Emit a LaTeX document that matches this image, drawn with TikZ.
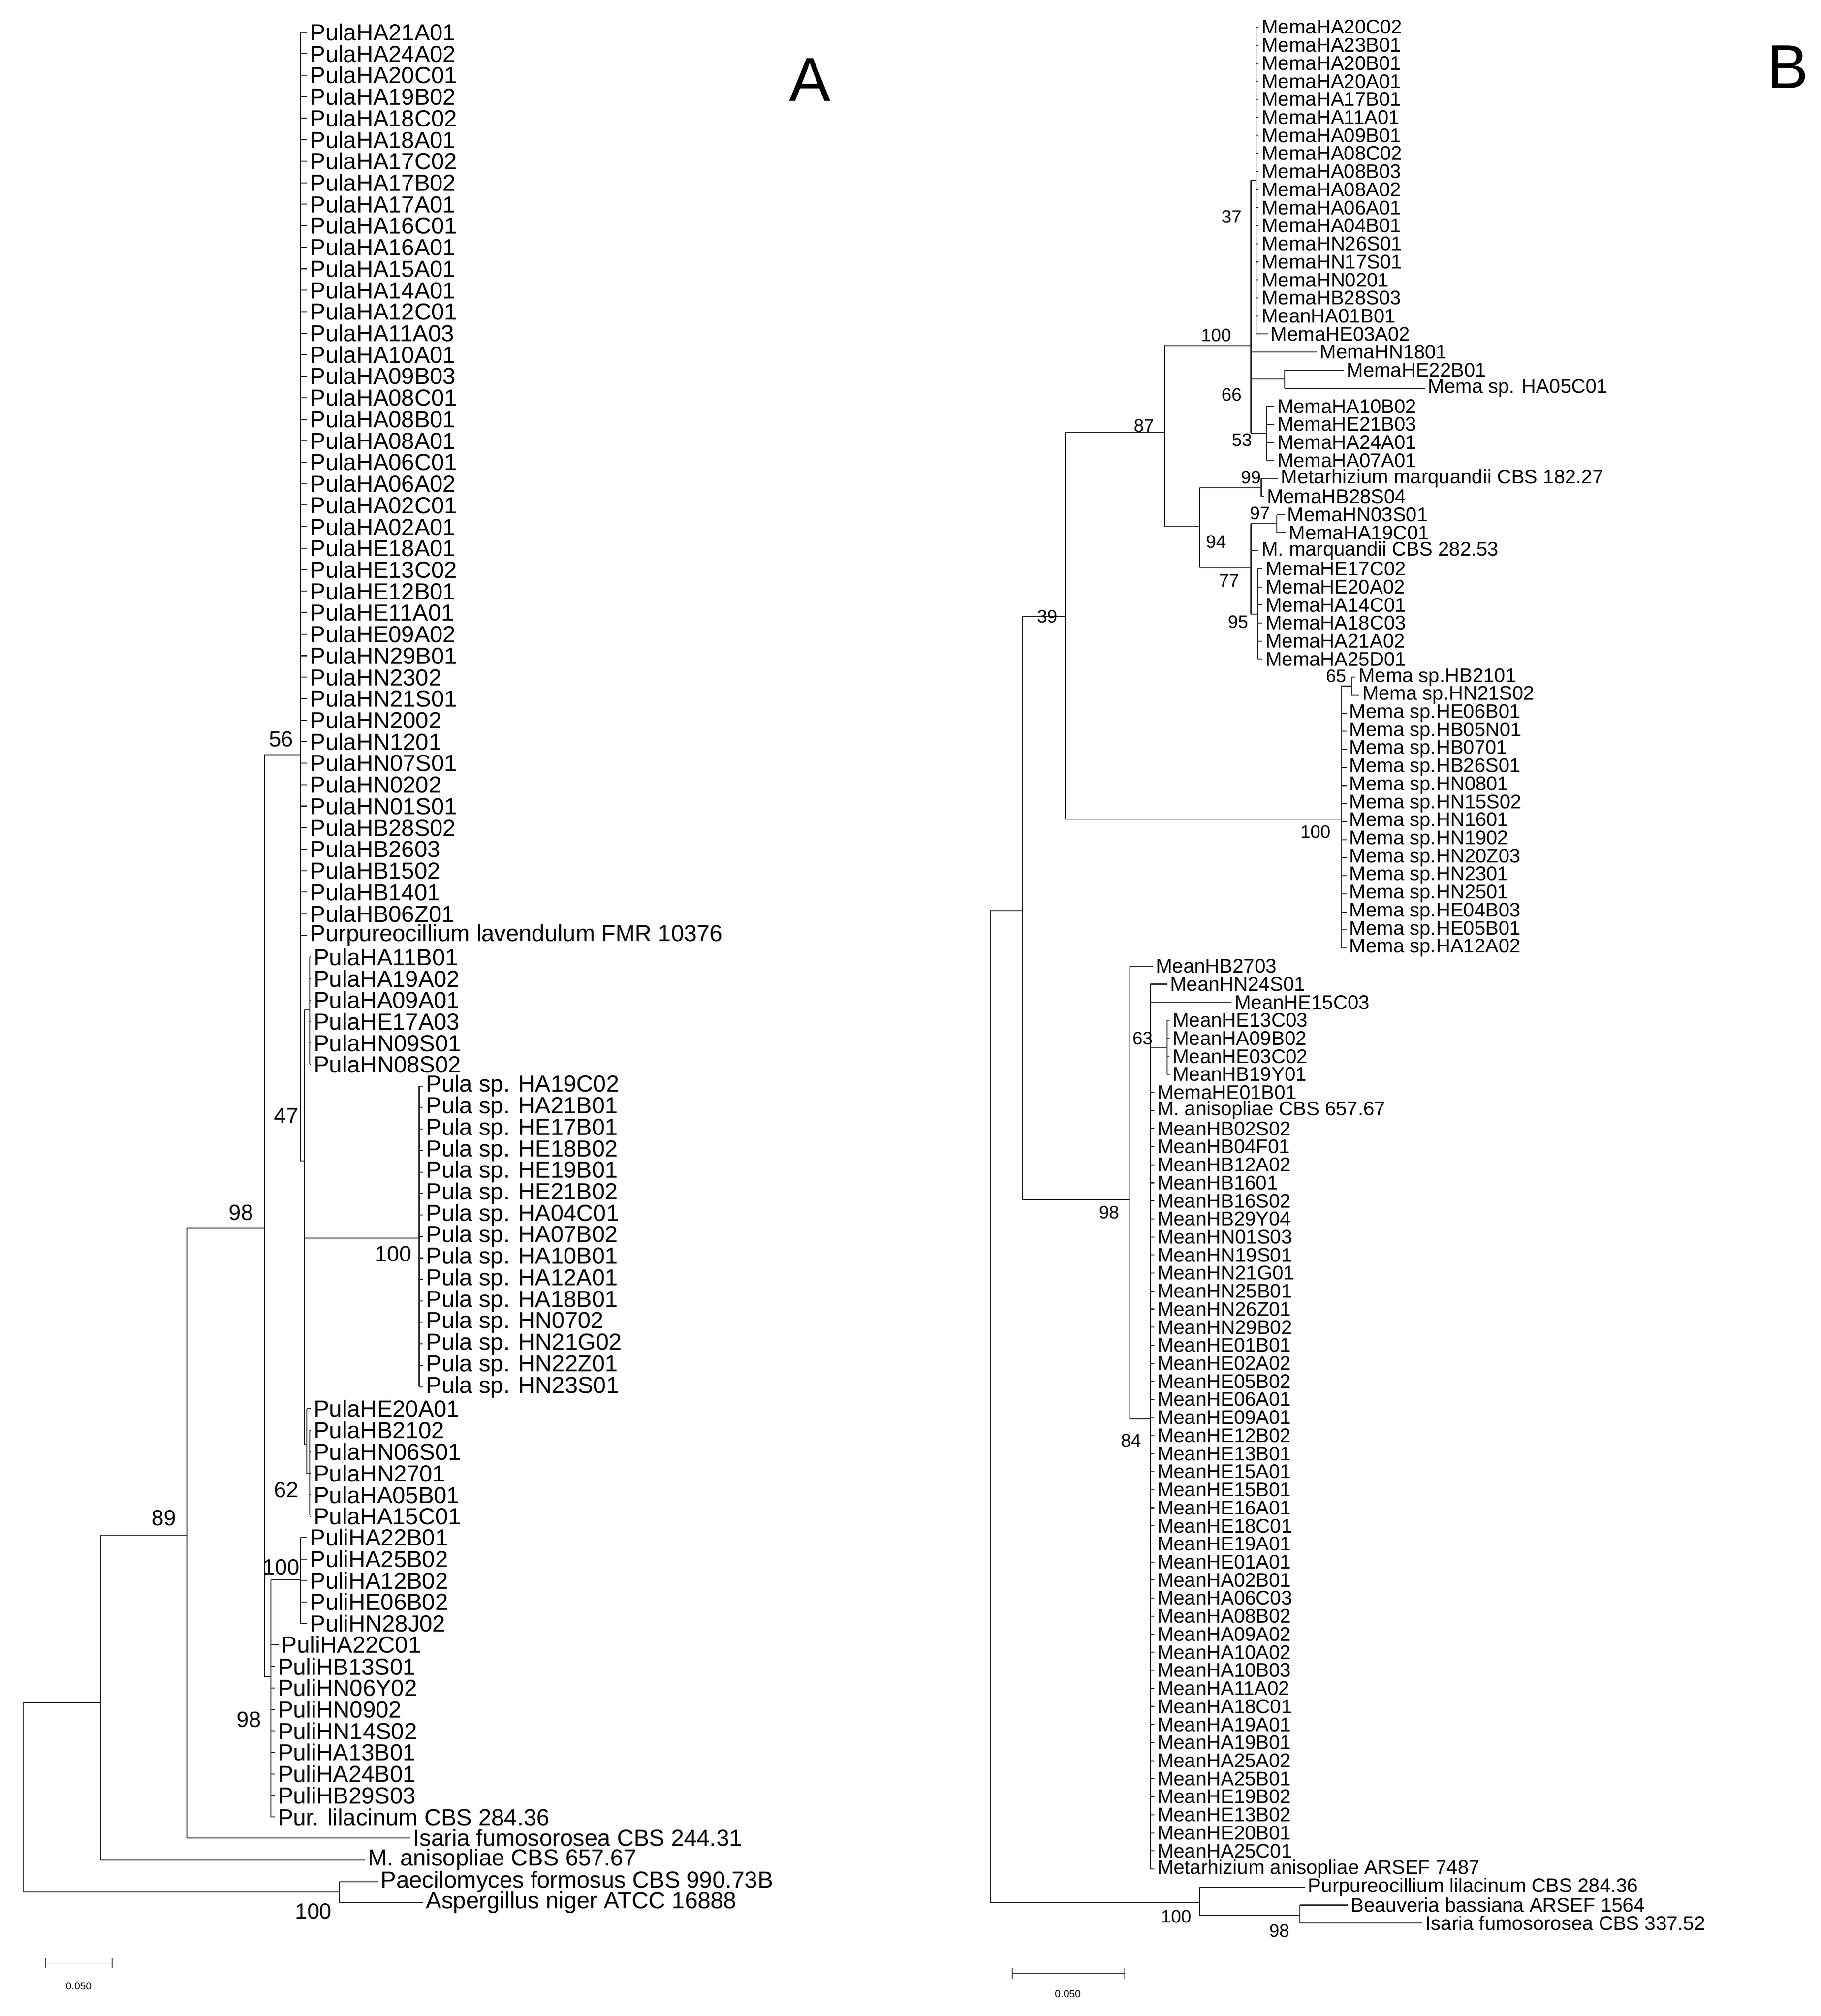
\documentclass[tikz,border=0pt]{standalone}
\usepackage{fontspec}
\setmainfont{Liberation Sans}
\begin{document}
\begin{tikzpicture}[x=1pt,y=-1pt,
  br/.style={draw=black!80,line width=0.8pt},
  la/.style={anchor=west,inner sep=2pt,font=\fontsize{18}{18}\selectfont},
  lb/.style={anchor=west,inner sep=2pt,font=\fontsize{15.3}{15}\selectfont},
  sa/.style={font=\fontsize{17}{17}\selectfont,inner sep=0pt},
  sb/.style={font=\fontsize{14}{14}\selectfont,inner sep=0pt}]
\useasboundingbox (0,0) rectangle (1412,1563);
\newcommand\lfa[4]{\draw[br] (#1,{#3}) -- (#2,{#3}) node[la]{#4};}
\newcommand\lfb[4]{\draw[br] (#1,{#3}) -- (#2,{#3}) node[lb]{#4};}
% ===== Tree A =====
\foreach \t [count=\i] in {PulaHA21A01,PulaHA24A02,PulaHA20C01,PulaHA19B02,PulaHA18C02,PulaHA18A01,PulaHA17C02,PulaHA17B02,PulaHA17A01,PulaHA16C01,PulaHA16A01,PulaHA15A01,PulaHA14A01,PulaHA12C01,PulaHA11A03,PulaHA10A01,PulaHA09B03,PulaHA08C01,PulaHA08B01,PulaHA08A01,PulaHA06C01,PulaHA06A02,PulaHA02C01,PulaHA02A01,PulaHE18A01,PulaHE13C02,PulaHE12B01,PulaHE11A01,PulaHE09A02,PulaHN29B01,PulaHN2302,PulaHN21S01,PulaHN2002,PulaHN1201,PulaHN07S01,PulaHN0202,PulaHN01S01,PulaHB28S02,PulaHB2603,PulaHB1502,PulaHB1401,PulaHB06Z01,Purpureocillium lavendulum FMR 10376}
  {\lfa{233}{238}{25+(\i-1)*16.667}{\t}}
\foreach \t [count=\i] in {PulaHA11B01,PulaHA19A02,PulaHA09A01,PulaHE17A03,PulaHN09S01,PulaHN08S02}
  {\lfa{240}{241}{742+(\i-1)*16.667}{\t}}
\foreach \t [count=\i] in {HA19C02,HA21B01,HE17B01,HE18B02,HE19B01,HE21B02,HA04C01,HA07B02,HA10B01,HA12A01,HA18B01,HN0702,HN21G02,HN22Z01,HN23S01}
  {\lfa{325}{328}{842+(\i-1)*16.667}{Pula sp. \t}}
\lfa{238}{241}{1092}{PulaHE20A01}
\foreach \t [count=\i] in {PulaHB2102,PulaHN06S01,PulaHN2701,PulaHA05B01,PulaHA15C01}
  {\lfa{240}{241}{1109+(\i-1)*16.667}{\t}}
\foreach \t [count=\i] in {PuliHA22B01,PuliHA25B02,PuliHA12B02,PuliHE06B02,PuliHN28J02}
  {\lfa{233}{238}{1192+(\i-1)*16.667}{\t}}
\lfa{210}{216}{1275}{PuliHA22C01}
\foreach \t [count=\i] in {PuliHB13S01,PuliHN06Y02,PuliHN0902,PuliHN14S02,PuliHA13B01,PuliHA24B01,PuliHB29S03,Pur. lilacinum CBS 284.36}
  {\lfa{210}{213}{1292+(\i-1)*16.667}{\t}}
\lfa{145}{318}{1425}{Isaria fumosorosea CBS 244.31}
\lfa{78}{283}{1442}{M. anisopliae CBS 657.67}
\lfa{263}{293}{1459}{Paecilomyces formosus CBS 990.73B}
\lfa{263}{328}{1475}{Aspergillus niger ATCC 16888}
\draw[br] (78,1320)--(18,1320)--(18,1467)--(263,1467);
\draw[br] (263,1459)--(263,1475);
\draw[br] (145,1190)--(78,1190)--(78,1442);
\draw[br] (205,952)--(145,952)--(145,1425);
\draw[br] (233,585)--(205,585)--(205,1300)--(210,1300);
\draw[br] (233,25)--(233,900)--(236,900);
\draw[br] (236,783)--(236,1120);
\draw[br] (236,783)--(240,783) (240,742)--(240,825);
\draw[br] (236,960)--(325,960) (325,842)--(325,1075);
\draw[br] (236,1120)--(238,1120) (238,1092)--(238,1142)--(240,1142) (240,1109)--(240,1175);
\draw[br] (210,1225)--(210,1409) (210,1225)--(233,1225) (233,1192)--(233,1259);
\node[sa] at (218,573){56};
\node[sa] at (222,865){47};
\node[sa] at (305,972){100};
\node[sa] at (222,1155){62};
\node[sa] at (187,940){98};
\node[sa] at (127,1177){89};
\node[sa] at (218,1215){100};
\node[sa] at (193,1333){98};
\node[sa] at (243,1482){100};
\draw[br,line width=0.6pt] (35,1522)--(87,1522) (35,1518)--(35,1526) (87,1518)--(87,1526);
\node[font=\fontsize{8}{8}\selectfont] at (61,1540){0.050};
\node[font=\fontsize{48}{48}\selectfont] at (628,62){A};
% ===== Tree B =====
\foreach \t [count=\i] in {MemaHA20C02,MemaHA23B01,MemaHA20B01,MemaHA20A01,MemaHA17B01,MemaHA11A01,MemaHA09B01,MemaHA08C02,MemaHA08B03,MemaHA08A02,MemaHA06A01,MemaHA04B01,MemaHN26S01,MemaHN17S01,MemaHN0201,MemaHB28S03,MeanHA01B01}
  {\lfb{974}{976}{21+(\i-1)*14}{\t}}
\lfb{974}{983}{259}{MemaHE03A02}
\lfb{970}{1021}{273}{MemaHN1801}
\lfb{996}{1042}{287}{MemaHE22B01}
\lfb{996}{1105}{301}{Mema sp. HA05C01}
\foreach \t [count=\i] in {MemaHA10B02,MemaHE21B03,MemaHA24A01,MemaHA07A01}
  {\lfb{982}{988}{315+(\i-1)*14}{\t}}
\lfb{978}{991}{371}{Metarhizium marquandii CBS 182.27}
\lfb{978}{980}{385}{MemaHB28S04}
\lfb{990}{996}{399}{MemaHN03S01}
\lfb{990}{997}{413}{MemaHA19C01}
\lfb{970}{976}{427}{M. marquandii CBS 282.53}
\foreach \t [count=\i] in {MemaHE17C02,MemaHE20A02,MemaHA14C01,MemaHA18C03,MemaHA21A02,MemaHA25D01}
  {\lfb{975}{979}{441+(\i-1)*14}{\t}}
\lfb{1048}{1051}{525}{Mema sp.HB2101}
\lfb{1048}{1054}{539}{Mema sp.HN21S02}
\foreach \t [count=\i] in {HE06B01,HB05N01,HB0701,HB26S01,HN0801,HN15S02,HN1601,HN1902,HN20Z03,HN2301,HN2501,HE04B03,HE05B01,HA12A02}
  {\lfb{1040}{1044}{553+(\i-1)*14}{Mema sp.\t}}
\lfb{876}{894}{749}{MeanHB2703}
\lfb{892}{905}{763}{MeanHN24S01}
\lfb{892}{955}{777}{MeanHE15C03}
\foreach \t [count=\i] in {MeanHE13C03,MeanHA09B02,MeanHE03C02,MeanHB19Y01}
  {\lfb{905}{907}{791+(\i-1)*14}{\t}}
\foreach \t [count=\i] in {MemaHE01B01,M. anisopliae CBS 657.67,MeanHB02S02,MeanHB04F01,MeanHB12A02,MeanHB1601,MeanHB16S02,MeanHB29Y04,MeanHN01S03,MeanHN19S01,MeanHN21G01,MeanHN25B01,MeanHN26Z01,MeanHN29B02,MeanHE01B01,MeanHE02A02,MeanHE05B02,MeanHE06A01,MeanHE09A01,MeanHE12B02,MeanHE13B01,MeanHE15A01,MeanHE15B01,MeanHE16A01,MeanHE18C01,MeanHE19A01,MeanHE01A01,MeanHA02B01,MeanHA06C03,MeanHA08B02,MeanHA09A02,MeanHA10A02,MeanHA10B03,MeanHA11A02,MeanHA18C01,MeanHA19A01,MeanHA19B01,MeanHA25A02,MeanHA25B01,MeanHE19B02,MeanHE13B02,MeanHE20B01,MeanHA25C01,Metarhizium anisopliae ARSEF 7487}
  {\lfb{892}{895}{847+(\i-1)*14}{\t}}
\lfb{930}{1012}{1463}{Purpureocillium lilacinum CBS 284.36}
\lfb{1008}{1045}{1477}{Beauveria bassiana ARSEF 1564}
\lfb{1008}{1103}{1491}{Isaria fumosorosea CBS 337.52}
\draw[br] (793,706)--(768,706)--(768,1475)--(930,1475);
\draw[br] (930,1463)--(930,1485)--(1008,1485) (1008,1477)--(1008,1491);
\draw[br] (826,478)--(793,478)--(793,930)--(876,930);
\draw[br] (903,335)--(826,335)--(826,635)--(1040,635);
\draw[br] (1040,532)--(1040,735) (1040,532)--(1048,532) (1048,525)--(1048,539);
\draw[br] (970,268)--(903,268)--(903,408)--(930,408);
\draw[br] (970,140)--(970,336) (970,140)--(974,140) (974,21)--(974,259);
\draw[br] (970,294)--(996,294) (996,287)--(996,301);
\draw[br] (970,336)--(982,336) (982,315)--(982,357);
\draw[br] (930,378)--(930,440) (930,378)--(978,378) (978,371)--(978,385);
\draw[br] (930,440)--(970,440) (970,406)--(970,476);
\draw[br] (970,406)--(990,406) (990,399)--(990,413);
\draw[br] (970,476)--(975,476) (975,441)--(975,511);
\draw[br] (876,749)--(876,1100)--(892,1100) (892,763)--(892,1449);
\draw[br] (892,812)--(905,812) (905,791)--(905,833);
\node[sb] at (955,168){37};
\node[sb] at (943,260){100};
\node[sb] at (955,306){66};
\node[sb] at (963,341){53};
\node[sb] at (887,330){87};
\node[sb] at (970,370){99};
\node[sb] at (977,398){97};
\node[sb] at (943,420){94};
\node[sb] at (953,450){77};
\node[sb] at (960,482){95};
\node[sb] at (812,478){39};
\node[sb] at (1036,524){65};
\node[sb] at (1020,645){100};
\node[sb] at (886,805){63};
\node[sb] at (860,940){98};
\node[sb] at (877,1117){84};
\node[sb] at (912,1486){100};
\node[sb] at (992,1497){98};
\draw[br,line width=0.6pt] (785,1530)--(872,1530) (785,1526)--(785,1534) (872,1526)--(872,1534);
\node[font=\fontsize{8}{8}\selectfont] at (828,1546){0.050};
\node[font=\fontsize{48}{48}\selectfont,anchor=west,inner sep=0pt] at (1370,52){B};
\end{tikzpicture}
\end{document}
